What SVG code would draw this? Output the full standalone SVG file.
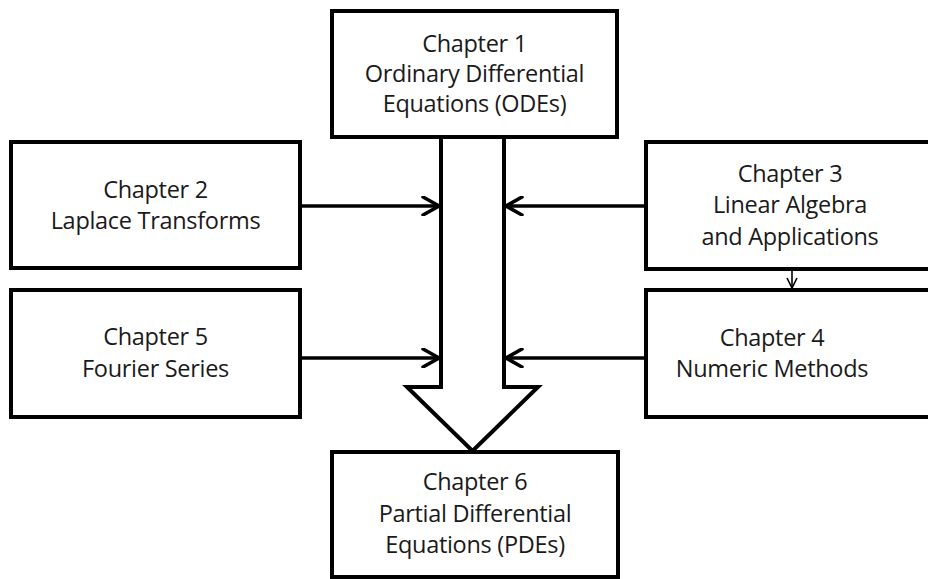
<svg xmlns="http://www.w3.org/2000/svg" width="928" height="579" viewBox="0 0 928 579">
<style>
.box{fill:#fff;stroke:#000;stroke-width:4}
.t{font-family:"Open Sans","Noto Sans",sans-serif;font-size:23.5px;fill:#1a1a1a;text-anchor:middle;letter-spacing:-0.3px}
.c{fill:none;stroke:#000;stroke-width:3.5}
.thin{fill:none;stroke:#000;stroke-width:1.6}
.big{fill:#fff;stroke:#000;stroke-width:4;stroke-linejoin:miter}
</style>
<defs>
<marker id="ah" viewBox="0 0 20 20" refX="18" refY="10" markerWidth="20" markerHeight="20" markerUnits="userSpaceOnUse" orient="auto">
<path d="M2,1 L18,10 L2,19" fill="none" stroke="#000" stroke-width="3.5" stroke-linecap="round" stroke-linejoin="miter"/>
</marker>
<marker id="ahs" viewBox="0 0 12 12" refX="11" refY="6" markerWidth="12" markerHeight="12" markerUnits="userSpaceOnUse" orient="auto">
<path d="M1,1 L11,6 L1,11" fill="none" stroke="#000" stroke-width="1.6"/>
</marker>
</defs>
<g id="connectors">
<path class="big" d="M441,137 L441,387 L407,387 L472.5,451 L538,387 L504,387 L504,137"/>
<line class="c" x1="300" y1="206" x2="439" y2="206" marker-end="url(#ah)"/>
<line class="c" x1="646" y1="206" x2="506" y2="206" marker-end="url(#ah)"/>
<line class="c" x1="300" y1="358" x2="439" y2="358" marker-end="url(#ah)"/>
<line class="c" x1="646" y1="358" x2="506" y2="358" marker-end="url(#ah)"/>
<line class="thin" x1="792" y1="269" x2="792" y2="288" marker-end="url(#ahs)"/>
</g>
<g id="ch1">
<rect class="box" x="332" y="11" width="285" height="126"/>
<text class="t" x="474.5" y="52">Chapter 1</text>
<text class="t" x="474.5" y="82">Ordinary Differential</text>
<text class="t" x="474.5" y="112">Equations (ODEs)</text>
</g>
<g id="ch2">
<rect class="box" x="11" y="142" width="289" height="126"/>
<text class="t" x="155.5" y="198">Chapter 2</text>
<text class="t" x="155.5" y="229">Laplace Transforms</text>
</g>
<g id="ch3">
<rect class="box" x="646" y="142" width="290" height="127"/>
<text class="t" x="790" y="182">Chapter 3</text>
<text class="t" x="790" y="213">Linear Algebra</text>
<text class="t" x="790" y="245">and Applications</text>
</g>
<g id="ch4">
<rect class="box" x="646" y="290" width="290" height="127"/>
<text class="t" x="772" y="346">Chapter 4</text>
<text class="t" x="772" y="377">Numeric Methods</text>
</g>
<g id="ch5">
<rect class="box" x="11" y="290" width="289" height="127"/>
<text class="t" x="155.5" y="345">Chapter 5</text>
<text class="t" x="155.5" y="377">Fourier Series</text>
</g>
<g id="ch6">
<rect class="box" x="332" y="452" width="286" height="125"/>
<text class="t" x="475" y="490">Chapter 6</text>
<text class="t" x="475" y="522">Partial Differential</text>
<text class="t" x="475" y="553">Equations (PDEs)</text>
</g>
</svg>
